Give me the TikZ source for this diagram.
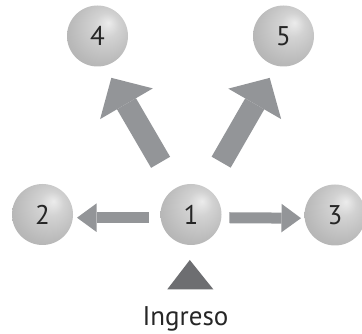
\documentclass[tikz,border=0pt]{standalone}
\usepackage{fontspec}
\setmainfont{PT Sans}
\usetikzlibrary{arrows.meta,positioning,calc}
\definecolor{arrowgray}{HTML}{939598}
\definecolor{trigray}{HTML}{6D6E71}
\pgfdeclareradialshading{sphere}{\pgfpoint{9bp}{11bp}}{color(0bp)=(gray!15);color(10bp)=(gray!35);color(28bp)=(gray!55);color(42bp)=(gray!66);color(55bp)=(gray!74)}
\begin{document}
\begin{tikzpicture}[x=1pt,y=-1pt,every node/.style={font=\fontsize{27}{27}\selectfont},
 ball/.style={circle,minimum size=61pt,inner sep=0pt,shading=sphere,text=black!85},
 fat/.style={draw=arrowgray,line width=#1}]
\useasboundingbox (0,0) rectangle (362,334);
\foreach \n/\x/\y in {1/191/214.5,2/42.5/214.5,3/335/215,4/97.5/36,5/283.5/36}{\node[ball] (n\n) at (\x,\y) {\n};}
% sideways
\draw[fat=11pt,-{Triangle[length=19.5pt,width=28.5pt,line width=0pt]},shorten <=11.7pt,shorten >=3.8pt] ([yshift=-3.2pt]n1.west) -- ([yshift=-3.2pt]n2.east);
\draw[fat=11pt,-{Triangle[length=19.5pt,width=28.5pt,line width=0pt]},shorten <=7.6pt,shorten >=3.3pt] ([yshift=-3.2pt]n1.east) -- ([yshift=-3.2pt]n3.west);
% upwards
\draw[fat=22pt,-{Triangle[length=30pt,width=61pt,line width=0pt]},shorten <=29.7pt,shorten >=13.8pt] (n1) -- (n4.-77);
\draw[fat=22pt,-{Triangle[length=30pt,width=61pt,line width=0pt]},shorten <=29.7pt,shorten >=13.8pt] (n1) -- (n5.-103);
% entry
\fill[trigray] (167.3,289.3) -- (189.8,260) -- (213.3,289.3) -- cycle;
\node[font=\fontsize{27}{27}\selectfont,anchor=base,text=black!85] (ingreso) at (185.5,325) {Ingreso};
\end{tikzpicture}
\end{document}
